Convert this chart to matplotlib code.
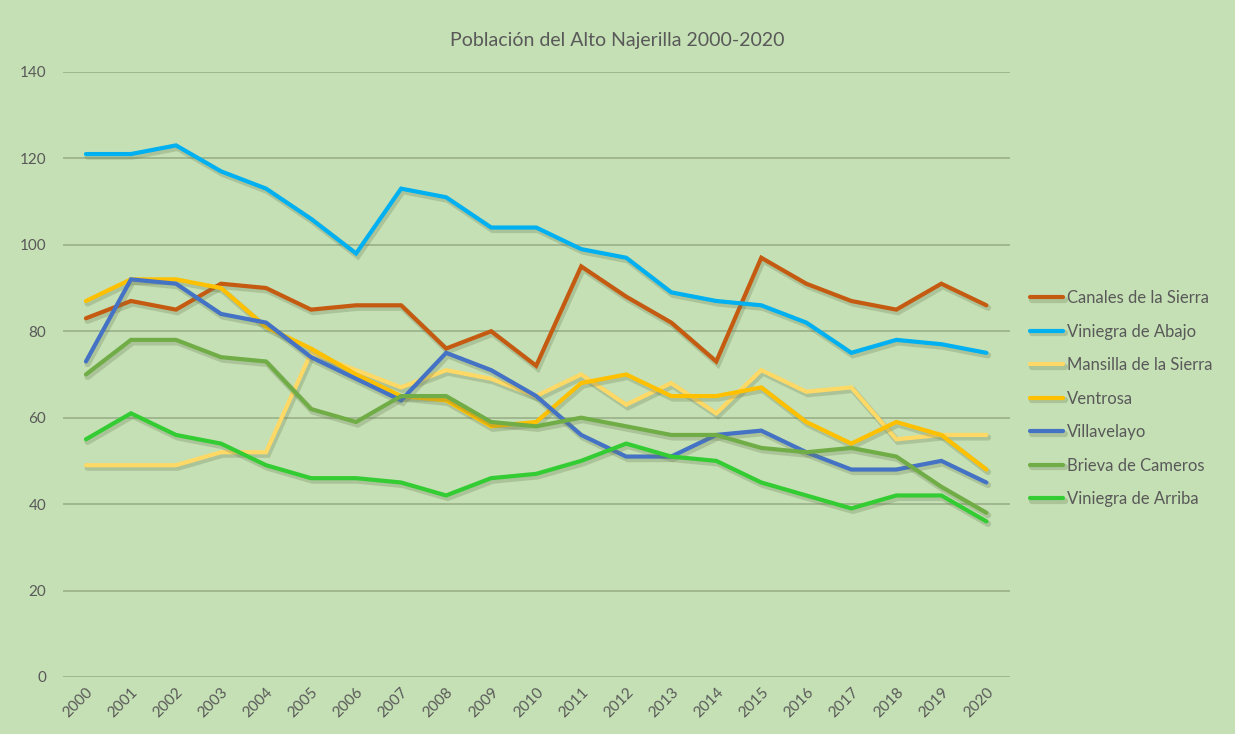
import numpy as np
import matplotlib
matplotlib.use("Agg")
import matplotlib.pyplot as plt
import matplotlib.patheffects as pe

years = [str(y) for y in range(2000, 2021)]

canales = [83, 87, 85, 91, 90, 85, 86, 86, 76, 80, 72, 95, 88, 82, 73, 97, 91, 87, 85, 91, 86]
viniegra_abajo = [121, 121, 123, 117, 113, 106, 98, 113, 111, 104, 104, 99, 97, 89, 87, 86, 82, 75, 78, 77, 75]
mansilla = [49, 49, 49, 52, 52, 75, 71, 67, 71, 69, 65, 70, 63, 68, 61, 71, 66, 67, 55, 56, 56]
ventrosa = [87, 92, 92, 90, 81, 76, 70, 65, 64, 58, 59, 68, 70, 65, 65, 67, 59, 54, 59, 56, 48]
villavelayo = [73, 92, 91, 84, 82, 74, 69, 64, 75, 71, 65, 56, 51, 51, 56, 57, 52, 48, 48, 50, 45]
brieva = [70, 78, 78, 74, 73, 62, 59, 65, 65, 59, 58, 60, 58, 56, 56, 53, 52, 53, 51, 44, 38]
viniegra_arriba = [55, 61, 56, 54, 49, 46, 46, 45, 42, 46, 47, 50, 54, 51, 50, 45, 42, 39, 42, 42, 36]

series = [
    ("Canales de la Sierra", canales, "#C55A11"),
    ("Viniegra de Abajo", viniegra_abajo, "#00B0F0"),
    ("Mansilla de la Sierra", mansilla, "#FFD966"),
    ("Ventrosa", ventrosa, "#FFC000"),
    ("Villavelayo", villavelayo, "#4472C4"),
    ("Brieva de Cameros", brieva, "#70AD47"),
    ("Viniegra de Arriba", viniegra_arriba, "#33CC33"),
]

bg = "#C5E0B4"
txt = "#595959"
plt.rcParams['font.family'] = ['Lato', 'DejaVu Sans']

fig = plt.figure(figsize=(12.35, 7.34), dpi=100, facecolor=bg)
ax = fig.add_axes([0.051, 0.0777, 0.767, 0.8243], facecolor=bg)

x = np.arange(len(years))
# soft drop shadow like the spreadsheet style
shadow = [pe.SimpleLineShadow(offset=(1.2, -1.8), shadow_color="#6b7a50", alpha=0.28,
                              linewidth=4.5),
          pe.Normal()]
for name, vals, col in series:
    ax.plot(x, vals, color=col, lw=3.0, label=name, solid_capstyle='round',
            solid_joinstyle='miter', path_effects=shadow)

ax.set_xlim(-0.51, 20.53)
ax.set_ylim(0, 140)
ax.set_yticks(range(0, 141, 20))
ax.set_xticks(x)
ax.set_xticklabels(years, rotation=45, ha='right', rotation_mode='anchor')
ax.grid(axis='y', color='#9DB38C', lw=1.3)
ax.set_axisbelow(True)
for s in ax.spines.values():
    s.set_visible(False)
ax.tick_params(length=0, colors=txt, labelsize=11)
ax.tick_params(axis='y', pad=12)
ax.tick_params(axis='x', pad=6)

fig.text(0.5, 0.945, "Población del Alto Najerilla 2000-2020", ha='center', va='center',
         color=txt, fontsize=14)

leg = ax.legend(loc='center left', bbox_to_anchor=(1.005, 0.46), frameon=False,
                fontsize=12, labelcolor=txt, handlelength=2.0, handletextpad=0.2,
                labelspacing=1.05)

fig.savefig("out.png", dpi=100, facecolor=bg)
